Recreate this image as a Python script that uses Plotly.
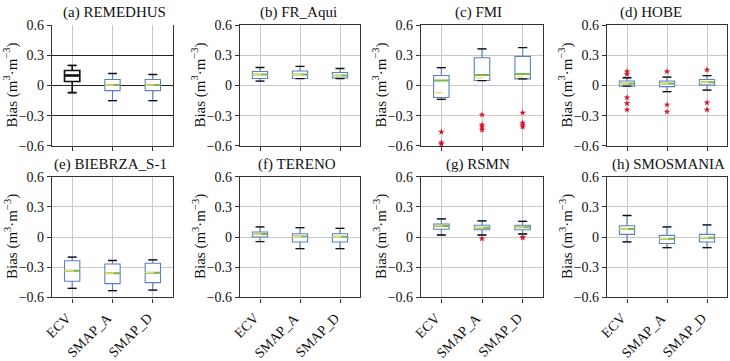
import plotly.graph_objects as go

stations = ["(a) REMEDHUS", "(b) FR_Aqui", "(c) FMI", "(d) HOBE",
            "(e) BIEBRZA_S-1", "(f) TERENO", "(g) RSMN", "(h) SMOSMANIA"]
products = ["ECV", "SMAP_A", "SMAP_D"]
y_ticks = [-0.6, -0.3, 0, 0.3, 0.6]

whisker_low = [
    [-0.07, -0.15, -0.15],
    [0.045, 0.07, 0.07],
    [-0.136, 0.05, 0.067],
    [-0.005, -0.06, -0.045],
    [-0.51, -0.533, -0.527],
    [-0.045, -0.115, -0.115],
    [0.02, 0.02, 0.03],
    [-0.048, -0.105, -0.105],
]
q1 = [
    [0.04, -0.05, -0.05],
    [0.07, 0.07, 0.075],
    [-0.119, 0.05, 0.067],
    [-0.005, -0.01, 0.005],
    [-0.44, -0.463, -0.453],
    [0.0, -0.05, -0.05],
    [0.077, 0.073, 0.073],
    [0.026, -0.064, -0.05],
]
median = [
    [0.10, 0.005, 0.005],
    [0.11, 0.11, 0.10],
    [0.05, 0.105, 0.116],
    [0.02, 0.02, 0.033],
    [-0.335, -0.36, -0.354],
    [0.03, 0.005, 0.003],
    [0.11, 0.093, 0.096],
    [0.08, -0.016, -0.006],
]
mean = [
    [0.10, 0.005, 0.005],
    [0.11, 0.11, 0.10],
    [-0.07, 0.077, 0.087],
    [0.02, 0.02, 0.033],
    [-0.335, -0.36, -0.354],
    [0.03, 0.005, 0.003],
    [0.11, 0.093, 0.096],
    [0.08, -0.016, -0.006],
]
q3 = [
    [0.15, 0.06, 0.06],
    [0.14, 0.145, 0.13],
    [0.10, 0.277, 0.29],
    [0.046, 0.046, 0.06],
    [-0.236, -0.268, -0.26],
    [0.05, 0.032, 0.032],
    [0.13, 0.117, 0.117],
    [0.112, 0.016, 0.026],
]
whisker_high = [
    [0.20, 0.12, 0.11],
    [0.18, 0.19, 0.17],
    [0.178, 0.365, 0.378],
    [0.078, 0.084, 0.10],
    [-0.20, -0.233, -0.227],
    [0.10, 0.093, 0.086],
    [0.18, 0.16, 0.156],
    [0.214, 0.10, 0.12],
]
outliers = [
    [[], [], []],
    [[], [], []],
    [[-0.46, -0.567, -0.58], [-0.29, -0.39, -0.41, -0.44], [-0.27, -0.37, -0.39, -0.41]],
    [[0.14, 0.113, -0.12, -0.177, -0.24], [0.14, -0.19, -0.26], [0.157, -0.17, -0.24]],
    [[], [], []],
    [[], [], []],
    [[], [-0.016], [0.0, -0.006]],
    [[], [], []],
]

W, H = 730, 361
col_px = [(52, 173), (240, 360), (421, 543), (607, 727)]
row_px = [(19, 145), (177, 303)]
title_cx = [114, 298, 478, 651, 110, 297, 478, 668]

BLUE = "#5b7fc0"
GREEN = "#7ab648"
YELLOW = "#e8e070"
RED = "#d6132a"
FONT = "Liberation Serif"
BOX_W = 0.38
CAP_W = 0.22

fig = go.Figure()
annotations = []
layout = {}

for i, name in enumerate(stations):
    r, c = divmod(i, 4)
    ax = "" if i == 0 else str(i + 1)
    xref, yref = "x" + ax, "y" + ax
    x0p, x1p = col_px[c]
    y0p, y1p = row_px[r]
    special = (i == 0)

    layout["xaxis" + ax] = dict(
        domain=[x0p / W, x1p / W], range=[-0.5, 2.5], anchor=yref,
        tickmode="array", tickvals=list(range(len(products))),
        showticklabels=False,
        ticks="outside", ticklen=4, tickcolor="#333",
        showline=True, linecolor="#333", linewidth=1.2,
        mirror=not special,
        showgrid=True, gridcolor="#c8c8c8", gridwidth=1, zeroline=False,
        fixedrange=True,
    )
    layout["yaxis" + ax] = dict(
        domain=[1 - y1p / H, 1 - y0p / H], range=[-0.6, 0.6], anchor=xref,
        tickmode="array", tickvals=y_ticks,
        ticktext=[("\u2212" if v < 0 else "") + ("0" if v == 0 else f"{abs(v):.1f}") for v in y_ticks],
        ticks="outside", ticklen=4, tickcolor="#333",
        showline=True, linecolor="#333", linewidth=1.2, mirror=True,
        showgrid=True, gridcolor="#222" if special else "#c8c8c8",
        gridwidth=1.3 if special else 1, zeroline=False,
        tickfont=dict(family=FONT, size=14, color="#111"),
        fixedrange=True,
    )

    for j, prod in enumerate(products):
        black = special and j == 0
        lc = "#111" if black else BLUE
        fig.add_trace(go.Box(
            x=[j], q1=[q1[i][j]], median=[median[i][j]], q3=[q3[i][j]],
            lowerfence=[whisker_low[i][j]], upperfence=[whisker_high[i][j]],
            width=BOX_W, whiskerwidth=CAP_W / BOX_W,
            line=dict(color=lc, width=1.6 if black else 1.1),
            fillcolor="white", boxpoints=False, xaxis=xref, yaxis=yref,
            showlegend=False, hoverinfo="skip",
        ))
        for v in (whisker_low[i][j], whisker_high[i][j]):
            fig.add_trace(go.Scatter(
                x=[j - CAP_W / 2, j + CAP_W / 2], y=[v, v], mode="lines",
                line=dict(color="#111", width=1.3), xaxis=xref, yaxis=yref,
                showlegend=False, hoverinfo="skip"))
        fig.add_trace(go.Scatter(
            x=[j - BOX_W / 2, j + BOX_W / 2], y=[median[i][j]] * 2, mode="lines",
            line=dict(color="#111" if black else GREEN, width=2.4 if black else 2),
            xaxis=xref, yaxis=yref, showlegend=False, hoverinfo="skip"))
        if not black:
            fig.add_trace(go.Scatter(
                x=[j - BOX_W / 2, j + BOX_W / 2], y=[mean[i][j]] * 2, mode="lines",
                line=dict(color=YELLOW, width=1.3, dash="dash"),
                xaxis=xref, yaxis=yref, showlegend=False, hoverinfo="skip"))
        if outliers[i][j]:
            fig.add_trace(go.Scatter(
                x=[j] * len(outliers[i][j]), y=outliers[i][j], mode="markers",
                marker=dict(symbol="star", size=5, color=RED),
                xaxis=xref, yaxis=yref, showlegend=False, hoverinfo="skip"))
        if r == 1:
            annotations.append(dict(
                text=prod, xref=xref, yref="paper", x=j, y=1 - 314 / H,
                xshift=5, textangle=-45, xanchor="right", yanchor="top",
                showarrow=False, font=dict(family=FONT, size=14, color="#111")))

    annotations.append(dict(
        text=name, xref="paper", yref="paper",
        x=title_cx[i] / W, y=1 - (y0p - 13) / H,
        xanchor="center", yanchor="middle", showarrow=False,
        font=dict(family=FONT, size=15, color="#111")))
    annotations.append(dict(
        text="Bias (m<sup>3</sup>\u00b7m<sup>\u22123</sup>)", xref="paper", yref="paper",
        x=(x0p - 41) / W, y=1 - (y0p + y1p) / 2 / H, textangle=-90,
        xanchor="center", yanchor="middle", showarrow=False,
        font=dict(family=FONT, size=15, color="#111")))

fig.update_layout(
    width=W, height=H, margin=dict(l=0, r=0, t=0, b=0),
    paper_bgcolor="white", plot_bgcolor="white",
    annotations=annotations, showlegend=False, **layout)

fig.write_html("out.html", config={"displayModeBar": False},
               post_script="document.body.style.margin='0';")
